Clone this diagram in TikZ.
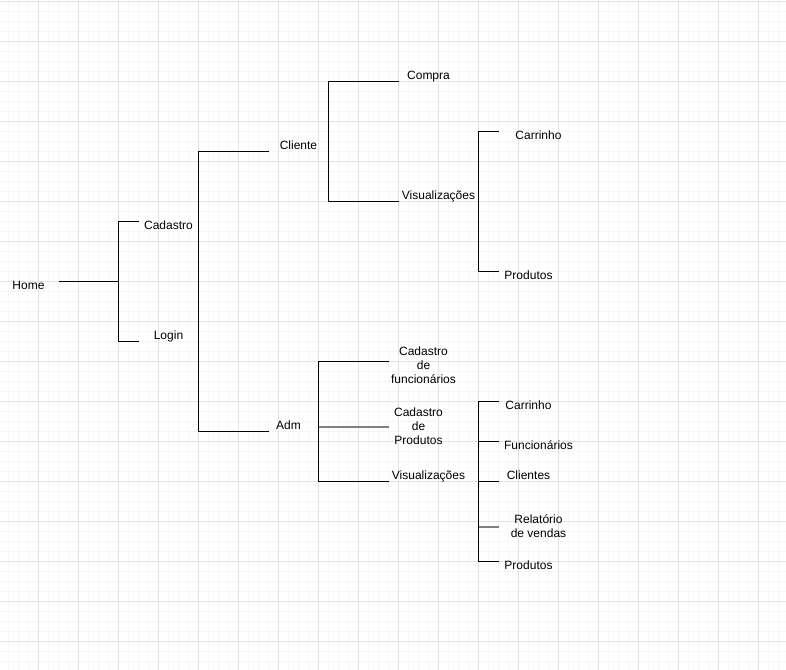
\documentclass[tikz,border=0pt]{standalone}
\usepackage{fontspec}
\setmainfont{Liberation Sans}
\usetikzlibrary{positioning,backgrounds}
\definecolor{gridmajor}{HTML}{E2E2E2}
\definecolor{gridminor}{HTML}{F6F6F6}
\definecolor{stubgray}{HTML}{808080}
\def\picwidth{786}
\def\picheight{669}

\begin{document}
\begin{tikzpicture}[x=1pt,y=-1pt,line width=1pt]
    \tikzstyle{item}=[inner sep=0pt,anchor=base,font=\fontsize{12}{14}\selectfont,align=center]
    \tikzstyle{tree}=[draw=black,line width=1pt]
    \tikzstyle{tree gray}=[draw=stubgray,line width=2pt]
    \tikzstyle{grid minor}=[draw=gridminor,line width=1pt]
    \tikzstyle{grid major}=[draw=gridmajor,line width=1pt]

    \fill[white] (0,0) rectangle (\picwidth,\picheight);
    \useasboundingbox (0,0) rectangle (\picwidth,\picheight);

    \begin{scope}[shift={(0.5,0.5)}]
    % Grid
    \foreach \x in {8,18,...,778}
        \draw[grid minor] (\x,-1) -- (\x,\picheight);
    \foreach \y in {1,11,...,661}
        \draw[grid minor] (-1,\y) -- (\picwidth,\y);
    \foreach \x in {38,78,...,758}
        \draw[grid major] (\x,-1) -- (\x,\picheight);
    \foreach \y in {1,41,...,641}
        \draw[grid major] (-1,\y) -- (\picwidth,\y);

    % Draw the nodes
    \node[item] (home) at (28,289) {Home};
    \node[item] (cadastro) at (168,229) {Cadastro};
    \node[item] (login) at (168,339) {Login};
    \node[item] (cliente) at (298,149) {Cliente};
    \node[item] (adm) at (288,429) {Adm};

    \node[item] (compra) at (428,79) {Compra};
    \node[item] (vis-c) at (438,199) {Visualizações};
    \node[item] (carrinho-c) at (538,139) {Carrinho};
    \node[item] (produtos-c) at (528,279) {Produtos};

    % multi-line nodes sit on their last line
    \node[item] (cad-func) at (423,383) {Cadastro\\de\\funcionários};
    \node[item] (cad-prod) at (418,444) {Cadastro\\de\\Produtos};
    \node[item] (vis-a) at (428,479) {Visualizações};
    \node[item] (carrinho-a) at (528,409) {Carrinho};
    \node[item] (func-a) at (538,449) {Funcionários};
    \node[item] (clientes-a) at (528,479) {Clientes};
    \node[item] (relatorio-a) at (538,537) {Relatório\\de vendas};
    \node[item] (produtos-a) at (528,569) {Produtos};

    % Stub ends and junctions
    \foreach \name/\x/\y in {home-r/58/281, cadastro-l/138/221, login-l/138/341,
            cliente-l/268/151, adm-l/268/431, compra-l/398/81, vis-c-l/398/201,
            carrinho-c-l/498/131, produtos-c-l/498/271, cad-func-l/388/361,
            cad-prod-l/388/426, vis-a-l/388/481, carrinho-a-l/498/401,
            func-a-l/498/441, clientes-a-l/498/481, relatorio-a-l/498/526,
            produtos-a-l/498/561}
        \coordinate (\name) at (\x,\y);
    \coordinate (j-home) at (118,281);
    \coordinate (j-user) at (198,291);
    \coordinate (j-cliente) at (328,141);
    \coordinate (j-vis-c) at (478,201);
    \coordinate (j-adm) at (318,426);
    \coordinate (j-vis-a) at (478,481);

    % Connect every node
    \draw[tree] (home-r) -- (j-home);
    \draw[tree] (cadastro-l) -| (j-home) |- (login-l);
    \draw[tree] (cliente-l) -| (j-user) |- (adm-l);
    \draw[tree] (compra-l) -| (j-cliente) |- (vis-c-l);
    \draw[tree] (carrinho-c-l) -| (j-vis-c) |- (produtos-c-l);
    \draw[tree] (cad-func-l) -| (j-adm) |- (vis-a-l);
    \draw[tree gray] (j-adm) -- (cad-prod-l);
    \draw[tree] (carrinho-a-l) -| (j-vis-a) |- (produtos-a-l);
    \foreach \dest in {func-a, clientes-a}
        \draw[tree] (j-vis-a |- \dest-l) -- (\dest-l);
    \draw[tree gray] (j-vis-a |- relatorio-a-l) -- (relatorio-a-l);
    \end{scope}
\end{tikzpicture}
\end{document}
